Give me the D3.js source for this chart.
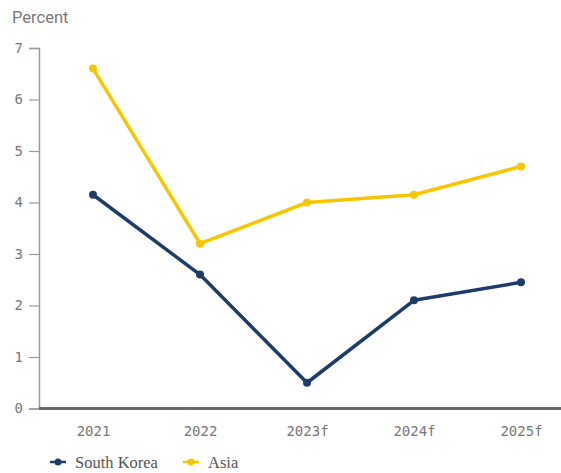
<!DOCTYPE html>
<html>
<head>
<meta charset="utf-8">
<script src="https://cdn.jsdelivr.net/npm/d3@7"></script>
<style>
  body { margin: 0; background: #fff; }
  svg { display: block; }
</style>
</head>
<body>
<div id="main"></div>
<script>
const years = ["2021", "2022", "2023f", "2024f", "2025f"];
const southKorea = [4.15, 2.6, 0.5, 2.1, 2.45];
const asia = [6.6, 3.2, 4.0, 4.15, 4.7];
const yTicks = [0, 1, 2, 3, 4, 5, 6, 7];

const series = [
  { name: "South Korea", values: southKorea, color: "#1d3c6b" },
  { name: "Asia", values: asia, color: "#f7c600" }
];

const width = 561, height = 473;
const margin = { top: 48, right: 0, bottom: 64, left: 39 };

const svg = d3.select("#main")
  .append("svg")
  .attr("width", width)
  .attr("height", height);

const x = d3.scalePoint()
  .domain(years)
  .range([margin.left + 54, width - 40]);

const y = d3.scaleLinear()
  .domain([0, 7])
  .range([height - margin.bottom - 0.5, margin.top]);

// y axis
const yAxis = svg.append("g")
  .attr("transform", `translate(${margin.left},0)`)
  .call(d3.axisLeft(y).tickValues(yTicks).tickFormat(d3.format("d"))
    .tickSize(10).tickSizeOuter(10).tickPadding(6));
yAxis.select(".domain").attr("stroke", "#9a9a9a").attr("stroke-width", 1.5);
yAxis.selectAll(".tick line").attr("stroke", "#9a9a9a").attr("stroke-width", 1.2);
yAxis.selectAll(".tick text")
  .attr("fill", "#777")
  .attr("font-family", "'DejaVu Sans Mono', monospace")
  .attr("font-size", 14);

// x axis
const xAxis = svg.append("g")
  .attr("transform", `translate(0,${y(0)})`)
  .call(d3.axisBottom(x).tickSize(0).tickPadding(18));
xAxis.select(".domain").remove();
xAxis.append("line")
  .attr("x1", margin.left).attr("x2", width)
  .attr("stroke", "#6b6b6b").attr("stroke-width", 3);
xAxis.selectAll(".tick text")
  .attr("fill", "#777")
  .attr("font-family", "'DejaVu Sans Mono', monospace")
  .attr("font-size", 14);

// title
svg.append("text")
  .attr("x", 12)
  .attr("y", 23)
  .attr("fill", "#777")
  .attr("font-family", "Roboto, sans-serif")
  .attr("font-size", 16.5)
  .text("Percent");

const line = d3.line()
  .x((d, i) => x(years[i]))
  .y(d => y(d));

const g = svg.append("g")
  .selectAll("g")
  .data(series)
  .join("g");

g.append("path")
  .attr("d", d => line(d.values))
  .attr("fill", "none")
  .attr("stroke", d => d.color)
  .attr("stroke-width", 3.5)
  .attr("stroke-linejoin", "round");

g.selectAll("circle")
  .data(d => d.values.map(v => ({ v, color: d.color })))
  .join("circle")
  .attr("cx", (d, i) => x(years[i]))
  .attr("cy", d => y(d.v))
  .attr("r", 4)
  .attr("fill", d => d.color);

// legend
const legendX = [50, 183];
const legend = svg.append("g")
  .selectAll("g")
  .data(series)
  .join("g")
  .attr("transform", (d, i) => `translate(${legendX[i]},462)`);

legend.append("line")
  .attr("x1", 0).attr("x2", 16)
  .attr("stroke", d => d.color)
  .attr("stroke-width", 2.5);
legend.append("circle")
  .attr("cx", 8)
  .attr("r", 3.5)
  .attr("fill", d => d.color);
legend.append("text")
  .attr("x", 25)
  .attr("dy", "0.35em")
  .attr("fill", "#555")
  .attr("font-family", "'Liberation Serif', serif")
  .attr("font-size", 16.5)
  .text(d => d.name);
</script>
</body>
</html>
